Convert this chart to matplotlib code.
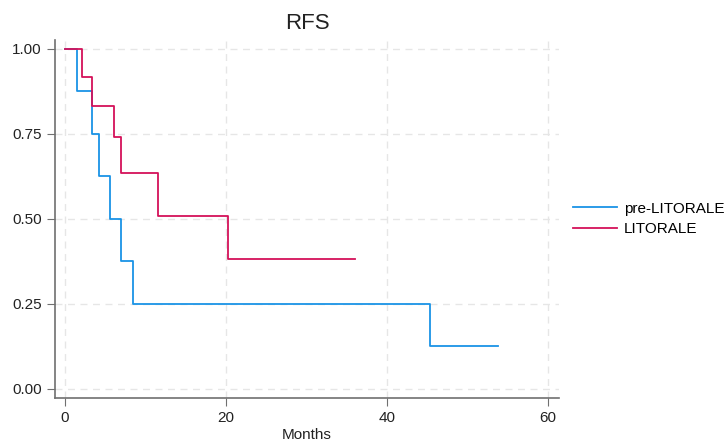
import matplotlib
matplotlib.use('Agg')
import matplotlib.pyplot as plt

plt.rcParams['font.family'] = ['Liberation Sans', 'DejaVu Sans']

# Kaplan-Meier step data
pre_t = [0, 1.45, 3.3, 4.27, 5.6, 7.0, 8.4, 45.3, 53.8]
pre_s = [1.0, 0.875, 0.75, 0.625, 0.5, 0.375, 0.25, 0.125, 0.125]
lit_t = [0, 2.07, 3.4, 6.1, 7.0, 11.6, 20.2, 36.1]
lit_s = [1.0, 0.917, 0.833, 0.741, 0.635, 0.508, 0.381, 0.381]

xticks = [0, 20, 40, 60]
yticks = [0.0, 0.25, 0.5, 0.75, 1.0]

fig = plt.figure(figsize=(7.27, 4.45), dpi=100)
ax = fig.add_axes([0.0757, 0.1056, 0.6933, 0.8044])

ax.step(pre_t, pre_s, where='post', color='#1a93e6', lw=1.3, label='pre-LITORALE')
ax.step(lit_t, lit_s, where='post', color='#d41159', lw=1.3, label='LITORALE')

ax.set_xlim(-1.24, 61.4)
ax.set_ylim(-0.0265, 1.026)
ax.set_xticks(xticks)
ax.set_yticks(yticks)
ax.set_yticklabels(['%.2f' % v for v in yticks])
ax.grid(True, ls=(0, (5, 4)), color='#e6e6e6', lw=1)
ax.set_axisbelow(True)
for s in ['top', 'right']:
    ax.spines[s].set_visible(False)
for s in ['left', 'bottom']:
    ax.spines[s].set_color('#707070')
    ax.spines[s].set_linewidth(1.2)
ax.tick_params(direction='out', length=6, color='#707070', labelsize=11, labelcolor='#222222')

ax.set_xlabel('Months', fontsize=11, color='#222222', labelpad=2)
ax.set_title('RFS', fontsize=16, color='#222222', pad=8)

ax.legend(loc='center left', bbox_to_anchor=(0.788, 0.508), bbox_transform=fig.transFigure,
          frameon=False, fontsize=11, handlelength=2.9, handletextpad=0.45,
          labelspacing=0.45, borderpad=0, borderaxespad=0)

fig.savefig('out.png', dpi=100)
